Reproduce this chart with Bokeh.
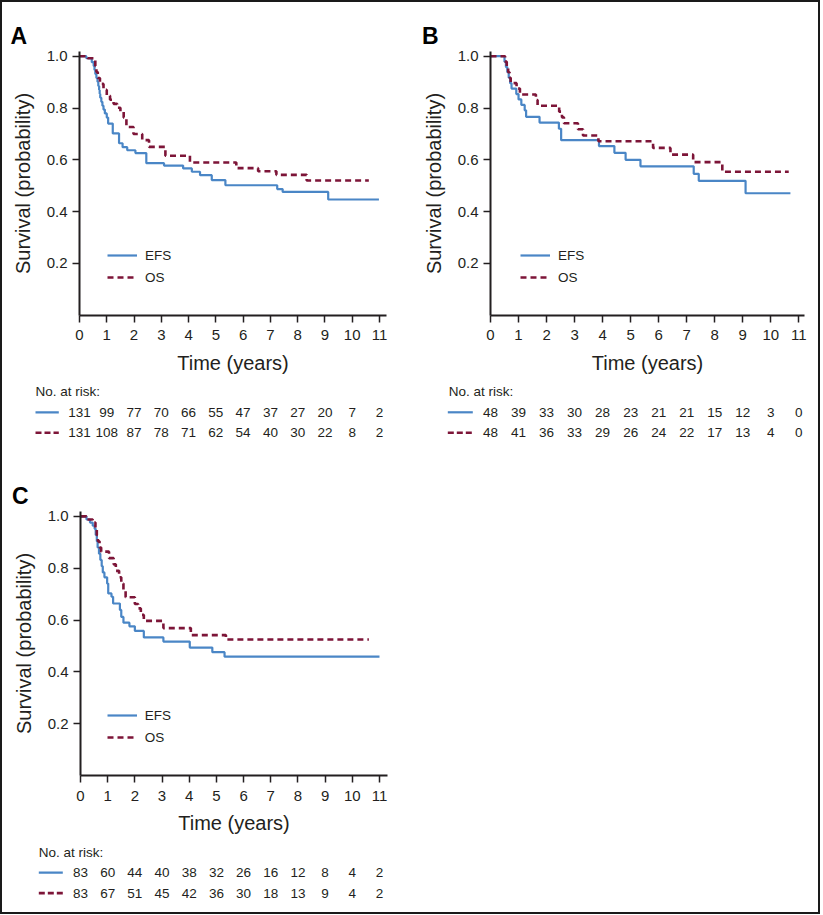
from bokeh.plotting import figure
from bokeh.models import (Range1d, LinearAxis, FixedTicker, PrintfTickFormatter,
                          Legend, LegendItem, ColumnDataSource)
from bokeh.core.properties import value
from bokeh.embed import file_html
from bokeh.resources import INLINE

# ---------------- data ----------------
years = list(range(12))
y_ticks = [0.2, 0.4, 0.6, 0.8, 1.0]
series_names = ["EFS", "OS"]

# Panel A
a_efs_t = [0, 0.25, 0.45, 0.52, 0.55, 0.58, 0.62, 0.66, 0.69, 0.72, 0.74, 0.76, 0.80, 0.84, 0.88,
           0.93, 1.00, 1.05, 1.22, 1.45, 1.58, 1.75, 2.05, 2.45, 3.10, 3.80, 4.12, 4.42, 4.85,
           5.35, 7.25, 7.45, 9.12]
a_efs_s = [1.0, 0.992, 0.977, 0.962, 0.947, 0.931, 0.916, 0.901, 0.885, 0.870, 0.855, 0.840, 0.824,
           0.809, 0.794, 0.779, 0.763, 0.740, 0.702, 0.664, 0.649, 0.637, 0.626, 0.587, 0.578,
           0.567, 0.554, 0.541, 0.522, 0.502, 0.487, 0.476, 0.447]
a_efs_end = 10.98
a_os_t = [0, 0.30, 0.52, 0.58, 0.62, 0.67, 0.75, 0.88, 1.00, 1.12, 1.25, 1.38, 1.50, 1.62, 1.72,
          1.98, 2.30, 2.55, 3.15, 4.05, 5.75, 6.55, 7.22, 8.33]
a_os_s = [1.0, 0.992, 0.985, 0.962, 0.939, 0.916, 0.893, 0.870, 0.847, 0.832, 0.816, 0.801, 0.786,
          0.763, 0.727, 0.700, 0.676, 0.650, 0.616, 0.590, 0.568, 0.556, 0.542, 0.520]
a_os_end = 10.61
risk_a_efs = [131, 99, 77, 70, 66, 55, 47, 37, 27, 20, 7, 2]
risk_a_os = [131, 108, 87, 78, 71, 62, 54, 40, 30, 22, 8, 2]

# Panel B
b_efs_t = [0, 0.50, 0.55, 0.60, 0.65, 0.70, 0.75, 0.92, 1.00, 1.10, 1.22, 1.27, 1.75, 2.44, 2.52,
           3.87, 4.42, 4.82, 5.35, 7.25, 7.43, 9.10]
b_efs_s = [1.0, 0.979, 0.958, 0.938, 0.917, 0.896, 0.875, 0.854, 0.833, 0.812, 0.791, 0.766, 0.744,
           0.720, 0.676, 0.653, 0.627, 0.600, 0.575, 0.546, 0.519, 0.471]
b_efs_end = 10.70
b_os_t = [0, 0.52, 0.58, 0.63, 0.68, 0.72, 0.93, 1.05, 1.62, 1.68, 2.45, 2.55, 2.62, 3.12, 3.30,
          3.85, 5.80, 6.42, 7.23, 8.27]
b_os_s = [1.0, 0.979, 0.958, 0.938, 0.917, 0.896, 0.875, 0.852, 0.831, 0.809, 0.786, 0.764, 0.741,
          0.718, 0.694, 0.672, 0.646, 0.620, 0.591, 0.554]
b_os_end = 10.64
risk_b_efs = [48, 39, 33, 30, 28, 23, 21, 21, 15, 12, 3, 0]
risk_b_os = [48, 41, 36, 33, 29, 26, 24, 22, 17, 13, 4, 0]

# Panel C
c_efs_t = [0, 0.22, 0.35, 0.45, 0.52, 0.56, 0.60, 0.63, 0.68, 0.73, 0.78, 0.82, 0.88, 0.98, 1.02,
           1.14, 1.20, 1.45, 1.50, 1.58, 1.80, 2.00, 2.33, 3.05, 4.02, 4.85, 5.30]
c_efs_s = [1.0, 0.988, 0.976, 0.964, 0.952, 0.928, 0.904, 0.880, 0.856, 0.832, 0.808, 0.784, 0.765,
           0.741, 0.703, 0.690, 0.664, 0.639, 0.612, 0.590, 0.576, 0.558, 0.533, 0.517, 0.494,
           0.476, 0.459]
c_efs_end = 11.0
c_os_t = [0, 0.22, 0.45, 0.55, 0.60, 0.64, 0.70, 0.76, 1.05, 1.22, 1.30, 1.42, 1.50, 1.58, 1.66,
          2.00, 2.12, 2.22, 2.33, 3.05, 4.06, 5.35]
c_os_s = [1.0, 0.988, 0.976, 0.952, 0.928, 0.904, 0.880, 0.864, 0.839, 0.815, 0.790, 0.765, 0.741,
          0.717, 0.688, 0.662, 0.645, 0.620, 0.597, 0.569, 0.542, 0.525]
c_os_end = 10.61
risk_c_efs = [83, 60, 44, 40, 38, 32, 26, 16, 12, 8, 4, 2]
risk_c_os = [83, 67, 51, 45, 42, 36, 30, 18, 13, 9, 4, 2]

# ---------------- styling / layout ----------------
W, H = 820, 914
FONT = "Liberation Sans"
INK = "#231f20"
BLUE = "#4a86c6"
RED = "#7d1538"
DASH = "6 4"

panels = [
    dict(name="A", x0=79.0, ppy=27.27, y0=314.8, ppu=259.1, lab=(10, 35),
         leg=(107, 255), note_dx=-44, key=(-44, -20.7),
         efs=(a_efs_t, a_efs_s, a_efs_end), os=(a_os_t, a_os_s, a_os_end),
         risk=(risk_a_efs, risk_a_os), xmax=11.25),
    dict(name="B", x0=490.0, ppy=28.03, y0=314.8, ppu=259.1, lab=(421.5, 35),
         leg=(520, 255.3), note_dx=-41.7, key=(-42.7, -17.7),
         efs=(b_efs_t, b_efs_s, b_efs_end), os=(b_os_t, b_os_s, b_os_end),
         risk=(risk_b_efs, risk_b_os), xmax=11.2),
    dict(name="C", x0=80.0, ppy=27.18, y0=775.1, ppu=259.2, lab=(11.5, 495.7),
         leg=(106.7, 715.3), note_dx=-41.7, key=(-41.7, -17.7),
         efs=(c_efs_t, c_efs_s, c_efs_end), os=(c_os_t, c_os_s, c_os_end),
         risk=(risk_c_efs, risk_c_os), xmax=11.28),
]
NOTE_DY, ROW1_DY, ROW2_DY = 76.5, 97.0, 117.5

p = figure(width=W, height=H, x_range=Range1d(0, W), y_range=Range1d(H, 0),
           output_backend="svg", toolbar_location=None,
           x_axis_location=None, y_axis_location=None, min_border=0,
           outline_line_color="#1a1a1a", outline_line_width=3)
p.xgrid.visible = False
p.ygrid.visible = False
p.background_fill_color = "white"
p.border_fill_color = "white"

xr, yr = {}, {}
for sp in panels:
    n = sp["name"]
    xn, yn = "x" + n, "y" + n
    xr[xn] = Range1d(-sp["x0"] / sp["ppy"], (W - sp["x0"]) / sp["ppy"])
    yr[yn] = Range1d((sp["y0"] - H) / sp["ppu"], sp["y0"] / sp["ppu"])

    # curves
    et, es, ee = sp["efs"]
    ot, os_, oe = sp["os"]
    r_efs = p.step(et + [ee], es + [es[-1]], mode="after", line_color=BLUE, line_width=2.2,
                   x_range_name=xn, y_range_name=yn)
    r_os = p.step(ot + [oe], os_ + [os_[-1]], mode="after", line_color=RED, line_width=2.6,
                  line_dash=DASH, x_range_name=xn, y_range_name=yn)

    # axes
    xax = LinearAxis(x_range_name=xn, y_range_name=yn, fixed_location=0,
                     bounds=(0, sp["xmax"]), ticker=FixedTicker(ticks=years, minor_ticks=[]),
                     axis_label="Time (years)")
    yax = LinearAxis(x_range_name=xn, y_range_name=yn, fixed_location=0,
                     bounds=(0, 1.02), ticker=FixedTicker(ticks=y_ticks, minor_ticks=[]),
                     formatter=PrintfTickFormatter(format="%.1f"),
                     axis_label="Survival (probability)")
    for ax in (xax, yax):
        ax.axis_line_color = INK
        ax.axis_line_width = 2
        ax.major_tick_line_color = INK
        ax.major_tick_line_width = 1.5
        ax.major_tick_out = 7
        ax.major_tick_in = 0
        ax.minor_tick_line_color = None
        ax.major_label_text_font = FONT
        ax.major_label_text_font_size = "15px"
        ax.major_label_text_color = INK
        ax.axis_label_text_font = FONT
        ax.axis_label_text_font_size = "20px"
        ax.axis_label_text_font_style = "normal"
        ax.axis_label_text_color = INK
    xax.major_label_standoff = 8
    xax.axis_label_standoff = 8
    yax.major_label_standoff = 5
    yax.axis_label_standoff = 10
    p.add_layout(xax, "below")
    p.add_layout(yax, "left")

    # legend
    leg = Legend(items=[LegendItem(label=series_names[0], renderers=[r_efs]),
                        LegendItem(label=series_names[1], renderers=[r_os])],
                 location=(sp["leg"][0], H - (sp["leg"][1] - 8 + 38)),
                 orientation="vertical", glyph_width=30, glyph_height=16, label_height=16,
                 label_width=10, spacing=6, padding=0, margin=0, label_standoff=8,
                 border_line_color=None, background_fill_alpha=0,
                 label_text_font=FONT, label_text_font_size="13.5px", label_text_color=INK)
    p.add_layout(leg, "center")

    # panel letter
    p.text(x=[sp["lab"][0]], y=[sp["lab"][1]], text=[n], text_font=value(FONT),
           text_font_size="23px", text_font_style="bold", text_color="black",
           text_baseline="alphabetic", text_align="left")

    # number at risk table
    p.text(x=[0], y=[0], text=["No. at risk:"], x_offset=sp["note_dx"], y_offset=NOTE_DY,
           x_range_name=xn, y_range_name=yn, text_font=value(FONT), text_font_size="13.5px",
           text_color=INK, text_align="left", text_baseline="middle")
    for vals, dy in zip(sp["risk"], (ROW1_DY, ROW2_DY)):
        src = ColumnDataSource(dict(x=years, y=[0] * len(years), t=[str(v) for v in vals]))
        p.text(x="x", y="y", text="t", source=src, y_offset=dy,
               x_range_name=xn, y_range_name=yn, text_font=value(FONT),
               text_font_size="13.5px", text_color=INK, text_align="center",
               text_baseline="middle")
    kx0 = sp["x0"] + sp["key"][0]
    kx1 = sp["x0"] + sp["key"][1]
    p.segment(x0=[kx0], y0=[sp["y0"] + ROW1_DY], x1=[kx1], y1=[sp["y0"] + ROW1_DY],
              line_color=BLUE, line_width=2.2)
    p.segment(x0=[kx0], y0=[sp["y0"] + ROW2_DY], x1=[kx1], y1=[sp["y0"] + ROW2_DY],
              line_color=RED, line_width=2.6, line_dash="6 3")

p.extra_x_ranges = xr
p.extra_y_ranges = yr

open("out.html", "w").write(file_html(p, INLINE, title="Survival curves"))
